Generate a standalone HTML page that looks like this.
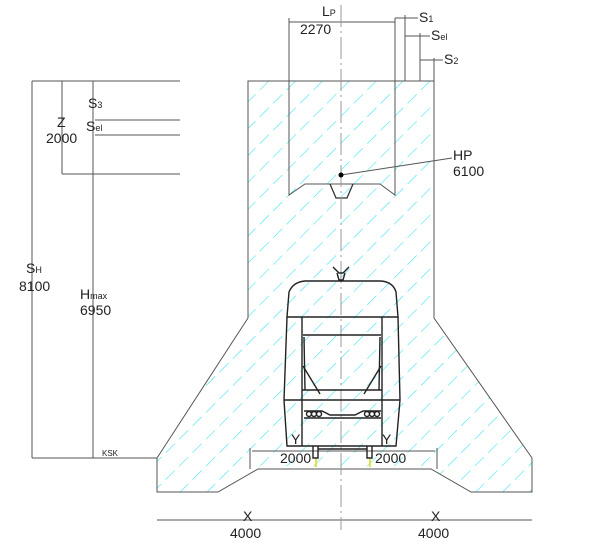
<!DOCTYPE html>
<html><head><style>body{margin:0;background:#fff}svg{display:block}text{font-family:"Liberation Sans",sans-serif;fill:#222}</style></head><body>
<svg width="613" height="547" viewBox="0 0 613 547" xmlns="http://www.w3.org/2000/svg">
<defs>
<pattern id="h" width="19" height="19" patternUnits="userSpaceOnUse" patternTransform="rotate(45)">
<line x1="0" y1="0" x2="0" y2="19" stroke="#40e4f2" stroke-width="1.2" stroke-dasharray="13,6"/>
</pattern>
<clipPath id="c"><path d="M248,81 L434,81 L434,318 L532,458 L532,492 L471,492 L431,469 L258,469 L218,492 L157,492 L157,458 L248,318 Z"/></clipPath>
</defs>
<rect x="150" y="75" width="390" height="420" fill="url(#h)" clip-path="url(#c)"/>
<g fill="none" stroke="#555" stroke-width="1">
<path d="M248,81 L434,81 L434,318 L532,458 L532,492 L471,492 L431,469 L258,469 L218,492 L157,492 L157,458 L248,318 Z"/>
<path d="M289,18 L289,195 L305,184 L380,184 L395,195 L395,18"/>
<path d="M330,184 L336,198 L347,198 L353,184" stroke="#333" stroke-width="1.3"/>
<line x1="341" y1="175" x2="452" y2="158"/>
<line x1="289" y1="22" x2="395" y2="22"/>
<line x1="405" y1="15" x2="405" y2="81"/>
<line x1="420" y1="33" x2="420" y2="81"/>
<line x1="434" y1="58" x2="434" y2="81"/>
<line x1="395" y1="18" x2="418" y2="18"/>
<line x1="405" y1="36" x2="430" y2="36"/>
<line x1="420" y1="60" x2="443" y2="60"/>
<line x1="32" y1="81" x2="180" y2="81"/>
<line x1="95" y1="120" x2="180" y2="120"/>
<line x1="95" y1="135" x2="180" y2="135"/>
<line x1="62" y1="174" x2="180" y2="174"/>
<line x1="32" y1="81" x2="32" y2="458"/>
<line x1="62" y1="81" x2="62" y2="174"/>
<line x1="93" y1="81" x2="93" y2="458"/>
<line x1="32" y1="458" x2="157" y2="458"/>
<line x1="250" y1="448" x2="250" y2="469"/>
<line x1="437" y1="448" x2="437" y2="469"/>
<line x1="252" y1="451" x2="435" y2="451"/>
<line x1="157" y1="520" x2="532" y2="520"/>
<line x1="341" y1="5" x2="341" y2="530" stroke="#999" stroke-dasharray="22,4,2,4"/>
</g>
<g fill="none" stroke="#222" stroke-width="1.4">
<path d="M333,267 L339,273 L343,273 L349,267 M337,273 L339,280 L343,280 L345,273"/>
<path d="M287,317 L289,292 Q293,282 305,281 L381,281 Q393,282 396,292 L398,317 Z"/>
<path d="M287,317 L284,400 L287,446 L396,446 L400,400 L398,317"/>
<line x1="302" y1="317" x2="302" y2="446"/>
<line x1="382" y1="317" x2="382" y2="446"/>
<line x1="303" y1="335" x2="381" y2="335"/>
<line x1="304" y1="337" x2="305" y2="390"/>
<line x1="380" y1="337" x2="379" y2="390"/>
<line x1="302" y1="390" x2="382" y2="390"/>
<line x1="284" y1="400" x2="400" y2="400"/>
<line x1="303" y1="366" x2="320" y2="394"/>
<line x1="381" y1="366" x2="364" y2="394"/>
<path d="M304,411 L322,411 L330,415 L355,415 L363,411 L381,411 M304,418 L381,418"/>
<circle cx="309" cy="414" r="2.5"/><circle cx="314" cy="414" r="2.5"/><circle cx="319" cy="414" r="2.5"/>
<circle cx="367" cy="414" r="2.5"/><circle cx="372" cy="414" r="2.5"/><circle cx="377" cy="414" r="2.5"/>
<path d="M313,446 L313,458 L318,458 L318,446 M367,446 L367,458 L372,458 L372,446"/>
<line x1="318" y1="449" x2="367" y2="449"/>
</g>
<line x1="316" y1="459" x2="316" y2="467" stroke="#e8e040" stroke-width="2"/>
<line x1="370" y1="459" x2="370" y2="467" stroke="#e8e040" stroke-width="2"/>
<circle cx="341" cy="175" r="2.5" fill="#000"/>
<g font-size="14">
<text x="322" y="16">L<tspan font-size="9">P</tspan></text>
<text x="300" y="34">2270</text>
<text x="419" y="22">S<tspan font-size="9">1</tspan></text>
<text x="431" y="40">S<tspan font-size="9">el</tspan></text>
<text x="444" y="64">S<tspan font-size="9">2</tspan></text>
<text x="453" y="160">HP</text>
<text x="453" y="176">6100</text>
<text x="88" y="108">S<tspan font-size="9">3</tspan></text>
<text x="86" y="131">S<tspan font-size="9">el</tspan></text>
<text x="57" y="127">Z</text>
<text x="46" y="143">2000</text>
<text x="26" y="273">S<tspan font-size="9">H</tspan></text>
<text x="19" y="291">8100</text>
<text x="80" y="299">H<tspan font-size="9">max</tspan></text>
<text x="80" y="315">6950</text>
<text x="102" y="456" font-size="8">KSK</text>
<text x="291" y="444">Y</text>
<text x="382" y="444">Y</text>
<text x="280" y="463">2000</text>
<text x="375" y="463">2000</text>
<text x="243" y="521">X</text>
<text x="230" y="538">4000</text>
<text x="431" y="521">X</text>
<text x="418" y="538">4000</text>
</g>
</svg>
</body></html>
